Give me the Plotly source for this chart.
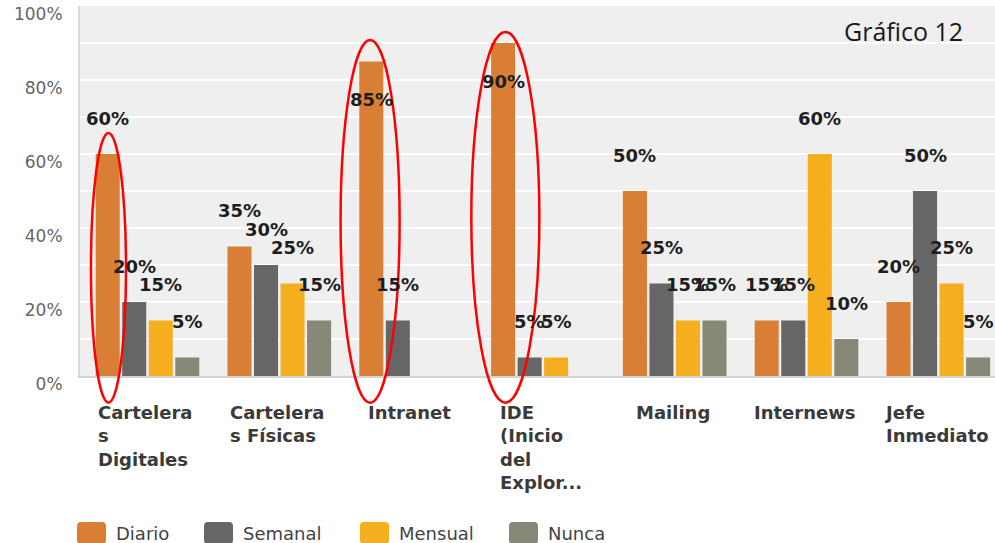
import plotly.graph_objects as go

# ---- data -------------------------------------------------------------
categories = [
    "Carteleras Digitales", "Carteleras Físicas", "Intranet",
    "IDE (Inicio del Explorador)", "Mailing", "Internews", "Jefe Inmediato",
]
category_labels = [
    "Cartelera<br>s<br>Digitales", "Cartelera<br>s Físicas", "Intranet",
    "IDE<br>(Inicio<br>del<br>Explor...", "Mailing", "Internews", "Jefe<br>Inmediato",
]
series_names = ["Diario", "Semanal", "Mensual", "Nunca"]
diario = [60, 35, 85, 90, 50, 15, 20]
semanal = [20, 30, 15, 5, 25, 15, 50]
mensual = [15, 25, None, 5, 15, 60, 25]
nunca = [5, 15, None, None, 15, 10, 5]
y_ticks = [0, 20, 40, 60, 80, 100]
chart_title = "Gráfico 12"

series_values = [diario, semanal, mensual, nunca]
series_colors = ["#d97f35", "#666666", "#f5ae1e", "#878878"]

# ---- layout constants --------------------------------------------------
FIG_W, FIG_H = 995, 543
L, T, W, H = 80, 6, 915, 370          # plot area in pixels
BARGAP = 0.195
GROUPGAP = 0.094
SLOT = (1 - BARGAP) / len(series_names)
LABEL_FONT = "DejaVu Sans"


def px_x(px):
    return (px - L) / W


def px_y(py):
    return (T + H - py) / H


fig = go.Figure()

for name, vals, color in zip(series_names, series_values, series_colors):
    fig.add_trace(go.Bar(
        x=categories, y=vals, name=name,
        marker=dict(color=color, line=dict(width=0)),
        showlegend=False, hoverinfo="skip",
    ))

annotations = []

# value labels above each bar (tall bars carry the label inside)
for j, vals in enumerate(series_values):
    for i, v in enumerate(vals):
        if v is None:
            continue
        annotations.append(dict(
            x=i + (j - 1.5) * SLOT, y=v, xref="x", yref="y",
            text=f"<b>{v}%</b>", showarrow=False,
            xanchor="center", yanchor="middle",
            yshift=36 if v < 80 else -38,
            font=dict(family=LABEL_FONT, size=18, color="#1e1e1e"),
        ))

# category names under the groups, lines left-aligned inside a centred block
for i, lab in enumerate(category_labels):
    annotations.append(dict(
        x=i, y=0, xref="x", yref="y domain",
        text=f"<b>{lab}</b>", showarrow=False,
        xanchor="center", yanchor="top", align="left",
        xshift=-2, yshift=-24,
        font=dict(family=LABEL_FONT, size=18, color="#3a3a3a"),
    ))

# chart caption
annotations.append(dict(
    x=px_x(903), y=px_y(31), xref="paper", yref="paper",
    text=chart_title, showarrow=False, xanchor="center", yanchor="middle",
    font=dict(family="Open Sans", size=25, color="#1a1a1a"),
))

# legend drawn as rounded swatches + text
legend_x = [77, 204, 360, 509]
SW_W, SW_TOP, SW_BOT, SW_R = 29, 522, 544, 4
shapes = []


def rounded_rect(x0, y0, x1, y1, r):
    pts = [
        f"M {px_x(x0 + r)},{px_y(y0)}",
        f"L {px_x(x1 - r)},{px_y(y0)}",
        f"Q {px_x(x1)},{px_y(y0)} {px_x(x1)},{px_y(y0 + r)}",
        f"L {px_x(x1)},{px_y(y1 - r)}",
        f"Q {px_x(x1)},{px_y(y1)} {px_x(x1 - r)},{px_y(y1)}",
        f"L {px_x(x0 + r)},{px_y(y1)}",
        f"Q {px_x(x0)},{px_y(y1)} {px_x(x0)},{px_y(y1 - r)}",
        f"L {px_x(x0)},{px_y(y0 + r)}",
        f"Q {px_x(x0)},{px_y(y0)} {px_x(x0 + r)},{px_y(y0)} Z",
    ]
    return " ".join(pts)


for lx, name, color in zip(legend_x, series_names, series_colors):
    shapes.append(dict(
        type="path", xref="paper", yref="paper",
        path=rounded_rect(lx, SW_TOP, lx + SW_W, SW_BOT, SW_R),
        fillcolor=color, line=dict(width=0),
    ))
    annotations.append(dict(
        x=px_x(lx + SW_W + 8), y=px_y(533), xref="paper", yref="paper",
        text=name, showarrow=False, xanchor="left", yanchor="middle",
        font=dict(family=LABEL_FONT, size=18, color="#444444"),
    ))

# red highlight ellipses around the standout daily bars
highlights = [(0, -0.429, -0.163, 0.657), (2, -0.535, -0.087, 0.908), (3, -0.543, -0.027, 0.930)]
for idx, dx0, dx1, top in highlights:
    shapes.append(dict(
        type="circle", xref="x", yref="y domain",
        x0=idx + dx0, x1=idx + dx1, y0=-0.072, y1=top,
        line=dict(color="#ff0000", width=2.5), fillcolor="rgba(0,0,0,0)",
        layer="above",
    ))

fig.update_layout(
    width=FIG_W, height=FIG_H, autosize=False,
    margin=dict(l=L, r=FIG_W - L - W, t=T, b=FIG_H - T - H, pad=0),
    paper_bgcolor="white", plot_bgcolor="#efefef",
    barmode="group", bargap=BARGAP, bargroupgap=GROUPGAP,
    showlegend=False,
    annotations=annotations, shapes=shapes,
    xaxis=dict(
        type="category", categoryorder="array", categoryarray=categories,
        range=[-0.512, 6.43], showticklabels=False, showgrid=False,
        zeroline=False, showline=True, linecolor="#d3d3d3", linewidth=2,
        ticks="", fixedrange=True,
    ),
    yaxis=dict(
        range=[0, 100], tickvals=y_ticks, ticktext=[f"{t}%" for t in y_ticks],
        showgrid=True, gridcolor="white", gridwidth=2,
        minor=dict(dtick=10, tick0=0, showgrid=True, gridcolor="white", gridwidth=2),
        zeroline=False, showline=True, linecolor="#d9d9d9", linewidth=2,
        ticks="", ticklabelstandoff=12, ticklabelshift=8,
        tickfont=dict(family=LABEL_FONT, size=17, color="#666666"),
        fixedrange=True,
    ),
)

fig.write_html("out.html")
